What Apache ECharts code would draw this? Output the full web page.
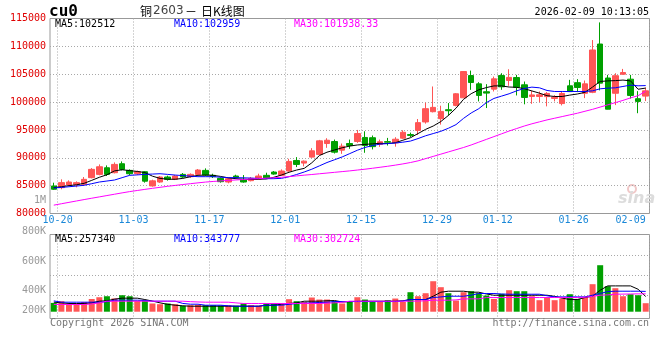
<!DOCTYPE html>
<html><head><meta charset="utf-8">
<script src="https://cdn.jsdelivr.net/npm/echarts@6/dist/echarts.min.js"></script>
<style>html,body{margin:0;padding:0;background:#fff}#c{width:660px;height:360px}</style>
</head><body><div id="c"></div>
<script>
// ---- data ----
const dates = ['10-20','10-21','10-22','10-23','10-24','10-27','10-28','10-29','10-30','10-31',
'11-03','11-04','11-05','11-06','11-07','11-10','11-11','11-12','11-13','11-14',
'11-17','11-18','11-19','11-20','11-21','11-24','11-25','11-26','11-27','11-28',
'12-01','12-02','12-03','12-04','12-05','12-08','12-09','12-10','12-11','12-12',
'12-15','12-16','12-17','12-18','12-19','12-22','12-23','12-24','12-25','12-26',
'12-29','12-30','12-31','01-05','01-06','01-07','01-08','01-09',
'01-12','01-13','01-14','01-15','01-16','01-19','01-20','01-21','01-22','01-23',
'01-26','01-27','01-28','01-29','01-30','02-02','02-03','02-04','02-05','02-06',
'02-09'];
const labeledDates = ['10-20','11-03','11-17','12-01','12-15','12-29','01-12','01-26','02-09'];

const opens = [84940,84640,85120,85180,85240,86430,87020,88210,87320,88930,
87740,87140,87500,84940,85650,86550,86130,87020,86610,87020,
87740,86850,86310,85650,86730,86130,85890,86190,86850,87440,
86850,87620,89520,89050,90120,90600,92560,92920,91370,92560,
92920,93650,93600,92400,92900,92680,93510,94170,94910,96430,
98270,97020,98630,99400,100770,104760,103270,101850,102320,104760,
103870,104400,103100,101010,101010,100980,100650,99730,102920,103480,
101580,101750,110420,104320,101580,105000,104110,100600,101070];
const closes = [84350,85540,85650,85540,86130,87920,88390,87020,88810,87920,
87140,87500,85800,85860,86550,86130,86730,86550,87020,87800,
86900,86610,85710,86250,86490,85650,86310,86730,86310,87080,
87620,89350,88810,89400,91250,93040,93150,91010,92080,92200,
94350,92200,92000,92880,92800,93330,94580,94020,96310,98810,
99050,98330,98450,101490,105480,103510,101190,101610,104170,102740,
104430,102650,100830,101280,101310,101550,100860,101550,101880,102620,
103270,109350,103400,98720,104730,105300,101190,100120,102020];
const lows = [84230,84350,84940,84700,84940,86310,86850,86730,87200,87740,
86850,86900,85540,84820,85500,85900,86000,86400,86400,86900,
86700,86370,85540,85420,86310,85540,85770,86070,86190,86960,
86730,87500,88330,88450,90000,90480,91790,90770,90710,91610,
92680,90900,91500,91960,92200,92000,93390,93690,94100,96130,
98150,95950,97560,99230,100710,102200,100120,98930,101900,102200,
102920,101190,99600,99680,100000,99230,100120,99400,101800,101790,
100710,101600,102100,98700,99460,104900,100630,98000,100180];
const highs = [85530,86130,85950,85770,86550,88150,88810,88630,89170,89350,
87920,87700,87620,86070,86730,86790,86900,87260,87200,87980,
88100,87140,86490,86430,86960,86900,86550,87140,87320,87620,
87920,89820,90120,89520,91730,93210,93510,93270,92560,93270,
95000,94760,94000,93270,93570,93690,94940,94520,96960,99880,
102800,99350,99820,101610,105540,105650,103570,103210,104580,105180,
105890,104880,103690,102020,101900,101800,101250,101960,103990,104110,
103870,111130,114300,104880,105180,105950,104880,101960,102590];

const ma5 = [84640,84800,85000,85150,85420,85950,86500,86950,87650,87850,
87700,87550,87350,86700,86300,86150,86150,86300,86600,86850,
86900,86850,86650,86400,86250,86150,86100,86150,86200,86500,
86900,87400,87800,88100,89100,90400,91000,91400,91800,92100,
92300,92400,92500,92600,92550,92700,93150,93600,94350,95100,
95700,96500,97600,98900,100500,101500,102200,102600,102900,102900,
102700,102650,102400,102000,101600,101150,101000,101000,101250,101450,
101750,102700,103700,103800,103850,103950,103800,102300,102512];
const ma10 = [84580,84680,84800,84930,85060,85350,85650,85830,86010,86430,
86850,86930,87020,87080,87140,87020,86900,86800,86700,86610,
86610,86610,86520,86430,86430,86400,86350,86300,86250,86250,
86310,86600,87000,87450,87950,88550,89150,89650,90150,90750,
91350,91850,92200,92450,92550,92650,92800,93000,93450,93950,
94350,94750,95300,95950,97080,98040,98810,99900,100650,101070,
101490,102020,102440,102680,102560,102080,101900,101900,101900,101900,
101900,102020,102380,102500,102560,102800,103040,102920,102959];
const ma30 = [81500,81750,82000,82250,82500,82740,82980,83220,83460,83700,
83930,84130,84330,84520,84700,84880,85040,85200,85350,85500,
85640,85750,85850,85940,86020,86100,86180,86260,86340,86420,
86500,86620,86750,86880,87000,87130,87260,87390,87520,87650,
87800,87950,88120,88300,88480,88680,88900,89150,89450,89850,
90250,90650,91050,91450,91850,92300,92800,93300,93800,94300,
94800,95250,95700,96100,96450,96800,97100,97400,97700,98000,
98350,98700,99100,99500,99900,100300,100750,101150,101938];

const volumes = [149000,178000,127000,139000,165000,215000,245000,262000,225000,279000,
262000,185000,190000,139000,127000,139000,127000,100000,110000,115000,
110000,110000,105000,105000,100000,139000,110000,100000,139000,139000,
139000,212000,178000,166000,240000,206000,206000,178000,139000,166000,
245000,206000,166000,166000,195000,223000,166000,330000,262000,313000,
516000,415000,313000,189000,330000,347000,313000,274000,217000,302000,
364000,347000,347000,262000,195000,245000,195000,223000,296000,217000,
245000,466000,787000,432000,398000,262000,296000,279000,144000];
const volMa5 = [161000,150000,139000,139000,139000,150000,178000,185000,212000,229000,
229000,229000,206000,180000,150000,125000,110000,100000,93000,93000,
93000,93000,93000,93000,93000,93000,93000,93000,110000,110000,
127000,140000,150000,178000,178000,178000,185000,189000,165000,170000,
175000,178000,178000,178000,178000,178000,185000,206000,206000,206000,
262000,330000,347000,347000,347000,330000,330000,300000,279000,279000,
279000,279000,279000,279000,279000,279000,260000,230000,206000,206000,
240000,262000,364000,437000,437000,437000,437000,380000,257340];
const volMa10 = [183000,161000,161000,161000,161000,161000,161000,170000,195000,195000,
195000,195000,190000,178000,178000,178000,178000,140000,127000,127000,
110000,110000,110000,100000,93000,93000,93000,93000,110000,110000,
110000,125000,139000,145000,150000,156000,160000,172000,172000,172000,
172000,172000,172000,172000,172000,172000,180000,206000,206000,206000,
240000,250000,262000,262000,262000,280000,308000,308000,308000,300000,
296000,296000,296000,296000,296000,270000,251000,251000,251000,251000,
251000,280000,308000,340000,347000,347000,347000,347000,343777];
const volMa30 = [122000,122000,122000,122000,122000,130000,150000,178000,178000,178000,
178000,178000,178000,178000,178000,178000,178000,178000,170000,165000,
161000,161000,161000,161000,150000,139000,139000,139000,139000,139000,
139000,139000,139000,139000,139000,139000,145000,150000,160000,178000,
178000,178000,178000,178000,178000,178000,178000,178000,180000,185000,
195000,195000,195000,200000,217000,217000,217000,240000,240000,240000,
240000,240000,240000,240000,240000,240000,240000,240000,240000,240000,
245000,260000,279000,285000,296000,298000,300000,302000,302724];

const priceMin = 80000, priceMax = 115000, priceStep = 5000;
const volMin = -115000, volMax = 1307000;
const volTickLabels = ['1M','800K','600K','400K','200K'];
const headTitle = 'cu0';
const headName = ['铜', '2603', '－', '日K线图'];
const headTime = '2026-02-09 10:13:05';
const priceMaText = ['MA5:102512', 'MA10:102959', 'MA30:101938.33'];
const volMaText = ['MA5:257340', 'MA10:343777', 'MA30:302724'];

// ---- chart ----
const UP = '#ff5555', DOWN = '#00a000';
const C5 = '#000000', C10 = '#0000ff', C30 = '#ff00ff';
const mono = '"DejaVu Sans Mono", monospace';
const labelIdx = labeledDates.map(d => dates.indexOf(d));
const dotted = {show: true, lineStyle: {color: '#a8a8a8', width: 1, type: [1, 2]}};

const candleData = dates.map((d, i) => [opens[i], closes[i], lows[i], highs[i]]);
const volData = volumes.map((v, i) => ({value: v, itemStyle: {color: closes[i] >= opens[i] ? UP : DOWN}}));

const xBase = (gi) => ({
  type: 'category', gridIndex: gi, data: dates, boundaryGap: true,
  axisLine: {show: false}, axisTick: {show: false},
  splitLine: {show: true, interval: (i) => labelIdx.indexOf(i - 1) >= 0,
    lineStyle: {color: '#a8a8a8', width: 1, type: [1, 2]}}
});

const lineS = (name, data, color, xi, yi) => ({
  name, type: 'line', data, xAxisIndex: xi, yAxisIndex: yi, showSymbol: false, symbol: 'none',
  lineStyle: {color, width: 1}, itemStyle: {color}, z: 5, silent: true, animation: false
});

const txt = (text, x, y, fill, font, align, z) => ({type: 'text', z: z || 1,
  style: {text, x, y, fill, font, textAlign: align || 'left', textVerticalAlign: 'middle'}});

const volLabelY = [200.5, 231, 261, 290.5, 310];
const graphics = [];
volTickLabels.forEach((t, k) => graphics.push(txt(t, 46, volLabelY[k], '#999', '10px ' + mono, 'right')));
graphics.push(txt(headTitle, 49, 12, '#000', 'bold 16px ' + mono));
graphics.push(txt(headName[0], 140, 11, '#000', '12px "Noto Sans CJK SC"'));
graphics.push(txt(headName[1], 153, 11, '#444', '12px "DejaVu Sans"'));
graphics.push(txt(headName[2], 185, 11, '#000', '12px "Noto Sans CJK SC"'));
graphics.push(txt(headName[3], 201, 11, '#000', '12px "Noto Sans CJK SC"'));
graphics.push(txt(headTime, 649, 12, '#000', '10px ' + mono, 'right'));
const maX = [55, 174, 294], maC = [C5, C10, C30];
priceMaText.forEach((t, k) => graphics.push(txt(t, maX[k], 24, maC[k], '10px ' + mono, 'left', 10)));
volMaText.forEach((t, k) => graphics.push(txt(t, maX[k], 239, maC[k], '10px ' + mono, 'left', 10)));
graphics.push(txt('Copyright 2026 SINA.COM', 50, 323, '#777', '10px ' + mono));
graphics.push(txt('http://finance.sina.com.cn', 649, 323, '#777', '10px ' + mono, 'right'));
graphics.push(txt('sina', 618, 199, '#dcdcdc', 'italic bold 16px "DejaVu Sans"'));
graphics.push({type: 'circle', shape: {cx: 632, cy: 189, r: 4}, style: {fill: 'none', stroke: '#f0c8c8', lineWidth: 2}});

const option = {
  animation: false,
  backgroundColor: '#fff',
  grid: [
    {left: 50, top: 18.5, width: 599.5, height: 195, show: true, borderColor: '#999', borderWidth: 1, backgroundColor: 'transparent'},
    {left: 50, top: 234.5, width: 599.5, height: 84, show: true, borderColor: '#999', borderWidth: 1, backgroundColor: 'transparent'},
    {left: 50, top: 255.5, width: 599.5, height: 40, show: false}
  ],
  xAxis: [
    Object.assign(xBase(0), {axisLabel: {show: true, interval: (i) => labelIdx.indexOf(i) >= 0, color: '#1a88d8',
      fontFamily: mono, fontSize: 10, margin: 2, padding: [0, 0, 0, 7.6], alignMaxLabel: 'right'}}),
    Object.assign(xBase(1), {axisLabel: {show: false}}),
    {type: 'category', gridIndex: 2, data: dates, show: false}
  ],
  yAxis: [
    {type: 'value', gridIndex: 0, min: priceMin, max: priceMax, interval: priceStep,
      axisLine: {show: false}, axisTick: {show: false},
      axisLabel: {color: '#e00000', fontFamily: mono, fontSize: 10, margin: 4, formatter: (v) => String(v)},
      splitLine: {show: true, showMinLine: false, showMaxLine: false, lineStyle: {color: '#a8a8a8', width: 1, type: [1, 2]}}},
    {type: 'value', gridIndex: 1, min: volMin, max: volMax, axisLine: {show: false}, axisTick: {show: false},
      axisLabel: {show: false}, splitLine: {show: false}},
    {type: 'value', gridIndex: 2, min: 0, max: 40, interval: 20, axisLine: {show: false}, axisTick: {show: false},
      axisLabel: {show: false}, splitLine: dotted}
  ],
  series: [
    {type: 'candlestick', xAxisIndex: 0, yAxisIndex: 0, data: candleData, barWidth: 6,
      itemStyle: {color: UP, color0: DOWN, borderColor: UP, borderColor0: DOWN, borderWidth: 1}, z: 2},
    lineS('MA5', ma5, C5, 0, 0),
    lineS('MA10', ma10, C10, 0, 0),
    lineS('MA30', ma30, C30, 0, 0),
    {type: 'bar', xAxisIndex: 1, yAxisIndex: 1, data: volData, barWidth: 6, z: 2},
    lineS('VMA5', volMa5, C5, 1, 1),
    lineS('VMA10', volMa10, C10, 1, 1),
    lineS('VMA30', volMa30, C30, 1, 1)
  ],
  graphic: graphics
};
const chart = echarts.init(document.getElementById('c'));
chart.setOption(option);
</script></body></html>
